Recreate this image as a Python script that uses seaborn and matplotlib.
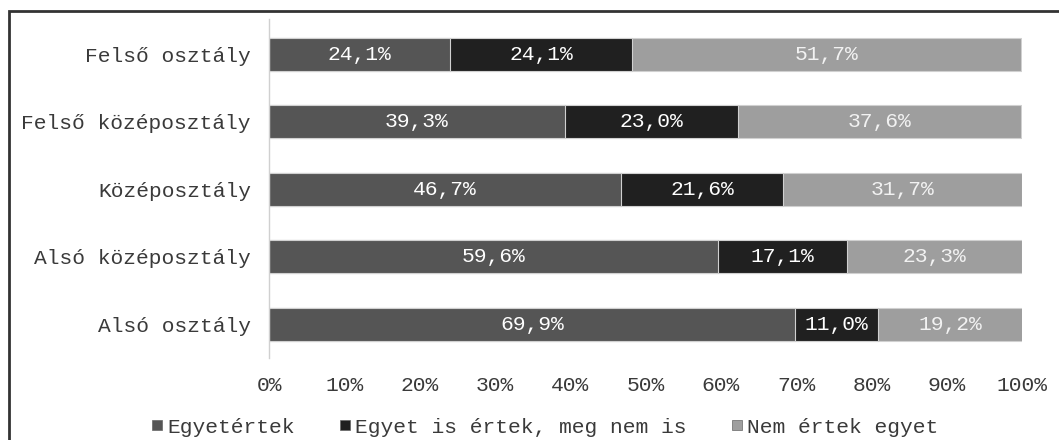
#--Import libraries--#
import numpy as np
import pandas as pd
import seaborn as sns
import matplotlib.pyplot as plt
from matplotlib.patches import Rectangle

#--Data--#
categories = ['Felső osztály', 'Felső középosztály', 'Középosztály',
              'Alsó középosztály', 'Alsó osztály']
series_names = ['Egyetértek', 'Egyet is értek, meg nem is', 'Nem értek egyet']
agree = [24.1, 39.3, 46.7, 59.6, 69.9]
neutral = [24.1, 23.0, 21.6, 17.1, 11.0]
disagree = [51.7, 37.6, 31.7, 23.3, 19.2]
colors = ['#555555', '#202020', '#9e9e9e']
x_ticks = [0, 10, 20, 30, 40, 50, 60, 70, 80, 90, 100]

#--Setup--#
sns.set_style('white')
plt.rcParams['font.family'] = ['Liberation Mono', 'DejaVu Sans Mono']
FS = 15.3

df = pd.DataFrame({'cat': categories, 'a': agree, 'n': neutral, 'd': disagree})
df['c1'] = df['a']
df['c2'] = df['a'] + df['n']
df['c3'] = df['c2'] + df['d']

fig = plt.figure(figsize=(10.59, 4.40), dpi=100)
ax = fig.add_axes([269 / 1059, 1 - 358 / 440, (1022 - 269) / 1059, (358 - 19) / 440])

#--Stacked bars (overlay of cumulative sums)--#
for col, colr in zip(['c3', 'c2', 'c1'], colors[::-1]):
    sns.barplot(data=df, x=col, y='cat', order=categories, color=colr,
                width=0.49, edgecolor='#d0d0d0', linewidth=0.8,
                saturation=1, ax=ax)

#--Segment labels--#
for i in range(len(categories)):
    segs = [(0, agree[i]), (agree[i], neutral[i]), (agree[i] + neutral[i], disagree[i])]
    for j, (start, w) in enumerate(segs):
        ax.text(start + w / 2, i, f'{w:.1f}%'.replace('.', ','),
                ha='center', va='center', fontsize=FS,
                color='white' if j < 2 else '#f2f2f2')

#--Axes styling--#
ax.set_xlim(0, 100)
ax.set_ylim(4.5, -0.52)
ax.set_xticks(x_ticks)
ax.set_xticklabels([f'{t}%' for t in x_ticks], fontsize=FS, color='#3a3a3a')
ax.tick_params(axis='y', labelsize=FS, labelcolor='#3a3a3a', length=0, pad=13)
ax.tick_params(axis='x', length=0, pad=13)
ax.set_xlabel('')
ax.set_ylabel('')
for s in ['top', 'right', 'bottom']:
    ax.spines[s].set_visible(False)
ax.spines['left'].set_color('#d0d0d0')
ax.spines['left'].set_linewidth(1)

#--Legend--#
handles = [plt.Line2D([0], [0], marker='s', linestyle='', markersize=7.5,
                      markerfacecolor=c, markeredgecolor='#666666', markeredgewidth=0.5)
           for c in colors]
fig.legend(handles, series_names, loc='center', bbox_to_anchor=(545 / 1059, 1 - 427 / 440),
           ncol=3, frameon=False, fontsize=FS, handlelength=0.5, handletextpad=0.25,
           columnspacing=2.1, labelcolor='#3a3a3a', borderpad=0, borderaxespad=0)

#--Frame around figure--#
fig.patches.append(Rectangle((9 / 1059, -0.1), 1.2, 1 - 11 / 440 + 0.1,
                             transform=fig.transFigure, fill=False,
                             edgecolor='#333333', linewidth=2))

fig.savefig('out.png', dpi=100)
